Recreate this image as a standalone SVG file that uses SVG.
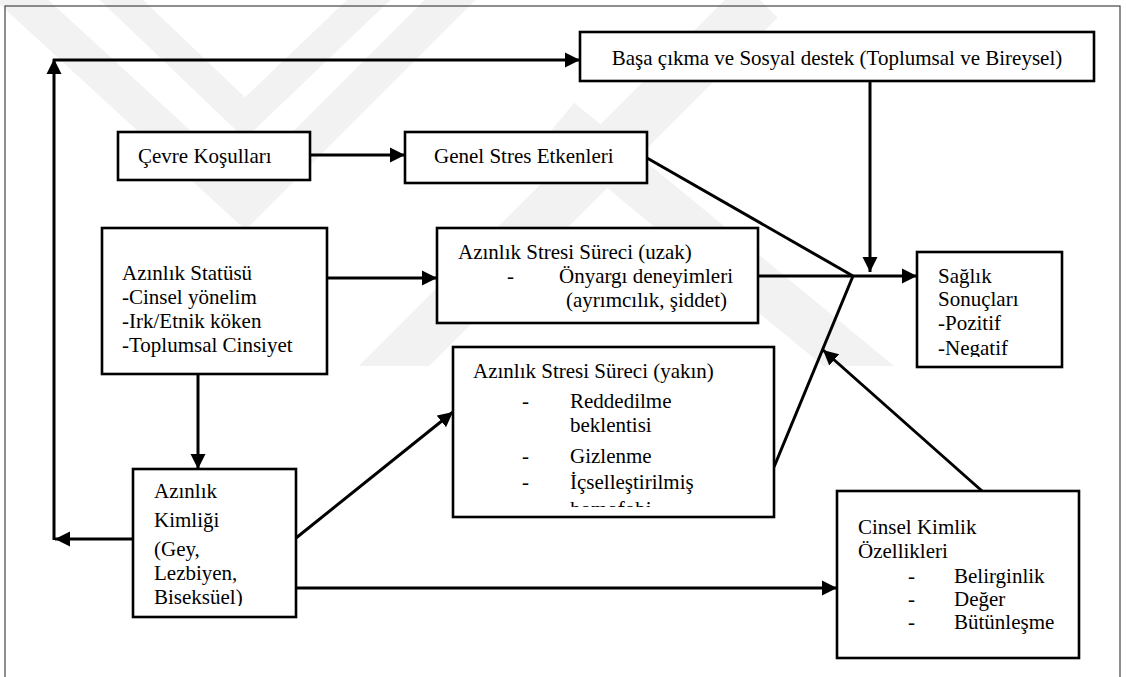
<svg xmlns="http://www.w3.org/2000/svg" width="1126" height="677" viewBox="0 0 1126 677">
<defs>
<style>
.box{fill:#fff;stroke:#000;stroke-width:2.6}
.t{font-size:21px;fill:#000}
.c{stroke:#000;stroke-width:3;fill:none}
.a{marker-end:url(#ah)}
.wm{fill:none;stroke:#f2f2f2;stroke-linejoin:miter}
</style>
<marker id="ah" markerUnits="userSpaceOnUse" markerWidth="16" markerHeight="16" refX="15" refY="7.5" orient="auto" viewBox="0 0 16 15">
<path d="M0,0 L15,7.5 L0,15 z" fill="#000"/>
</marker>
<clipPath id="clipS"><rect x="917" y="250" width="150" height="107"/></clipPath>
<clipPath id="clipY"><rect x="453" y="345" width="322" height="162"/></clipPath>
<clipPath id="clipK"><rect x="133" y="467" width="165" height="139"/></clipPath>
<clipPath id="clipW"><rect x="0" y="0" width="1126" height="366"/></clipPath>
</defs>
<rect width="1126" height="677" fill="#fff"/>
<g id="watermark" clip-path="url(#clipW)">
<polyline class="wm" stroke-width="36" points="0,-20 245,205 480,-30"/>
<polyline class="wm" stroke-width="30" points="90,-30 245,118 400,-30"/>
<line class="wm" stroke-width="50" x1="360" y1="400" x2="760" y2="0"/>
<line class="wm" stroke-width="45" x1="560" y1="120" x2="900" y2="400"/>
</g>
<rect id="frame" x="5" y="6" width="1115" height="700" fill="none" stroke="#444" stroke-width="1.2"/>
<g id="connectors">
<line class="c a" x1="133" y1="539" x2="55" y2="539"/>
<line class="c a" x1="54" y1="540" x2="54" y2="59"/>
<line class="c a" x1="53" y1="60" x2="580" y2="60"/>
<line class="c a" x1="870" y1="81" x2="870" y2="272"/>
<line class="c a" x1="310" y1="155" x2="405" y2="155"/>
<line class="c" x1="647" y1="158" x2="853" y2="276"/>
<line class="c a" x1="327" y1="278" x2="437" y2="278"/>
<line class="c a" x1="758" y1="276" x2="917" y2="276"/>
<line class="c" x1="774" y1="467" x2="853" y2="276"/>
<line class="c a" x1="982" y1="491" x2="823" y2="350"/>
<line class="c a" x1="198" y1="374" x2="198" y2="469"/>
<line class="c a" x1="296" y1="538" x2="453" y2="412"/>
<line class="c a" x1="296" y1="588" x2="837" y2="588"/>
</g>
<g font-family="Liberation Serif, Times New Roman, serif">
<g id="basa">
<rect class="box" x="580" y="32" width="514" height="49"/>
<text class="t" x="837" y="65" text-anchor="middle">Başa çıkma ve Sosyal destek (Toplumsal ve Bireysel)</text>
</g>
<g id="cevre">
<rect class="box" x="118" y="132" width="192" height="48"/>
<text class="t" x="138" y="163">Çevre Koşulları</text>
</g>
<g id="genel">
<rect class="box" x="405" y="132" width="242" height="51"/>
<text class="t" x="434" y="163">Genel Stres Etkenleri</text>
</g>
<g id="statusu">
<rect class="box" x="102" y="228" width="225" height="146"/>
<text class="t" x="122" y="280">Azınlık Statüsü</text>
<text class="t" x="122" y="304">-Cinsel yönelim</text>
<text class="t" x="122" y="328">-Irk/Etnik köken</text>
<text class="t" x="122" y="352">-Toplumsal Cinsiyet</text>
</g>
<g id="uzak">
<rect class="box" x="437" y="228" width="321" height="95"/>
<text class="t" x="458" y="259">Azınlık Stresi Süreci (uzak)</text>
<text class="t" x="507" y="283">-</text>
<text class="t" x="559" y="283">Önyargı deneyimleri</text>
<text class="t" x="566" y="307">(ayrımcılık, şiddet)</text>
</g>
<g id="yakin">
<rect class="box" x="453" y="347" width="321" height="170"/>
<g clip-path="url(#clipY)">
<text class="t" x="473" y="378">Azınlık Stresi Süreci (yakın)</text>
<text class="t" x="522" y="408">-</text>
<text class="t" x="570" y="408">Reddedilme</text>
<text class="t" x="570" y="432">beklentisi</text>
<text class="t" x="522" y="463">-</text>
<text class="t" x="570" y="463">Gizlenme</text>
<text class="t" x="522" y="489">-</text>
<text class="t" x="570" y="489">İçselleştirilmiş</text>
<text class="t" x="570" y="516">homofobi</text>
</g>
</g>
<g id="saglik">
<rect class="box" x="917" y="252" width="145" height="115"/>
<g clip-path="url(#clipS)">
<text class="t" x="938" y="283">Sağlık</text>
<text class="t" x="938" y="306">Sonuçları</text>
<text class="t" x="938" y="330">-Pozitif</text>
<text class="t" x="938" y="355">-Negatif</text>
</g>
</g>
<g id="kimlik">
<rect class="box" x="133" y="469" width="163" height="148"/>
<g clip-path="url(#clipK)">
<text class="t" x="154" y="498">Azınlık</text>
<text class="t" x="154" y="527">Kimliği</text>
<text class="t" x="154" y="556">(Gey,</text>
<text class="t" x="154" y="580">Lezbiyen,</text>
<text class="t" x="154" y="604">Biseksüel)</text>
</g>
</g>
<g id="cinsel">
<rect class="box" x="837" y="491" width="242" height="167"/>
<text class="t" x="858" y="534">Cinsel Kimlik</text>
<text class="t" x="858" y="558">Özellikleri</text>
<text class="t" x="908" y="583">-</text>
<text class="t" x="954" y="583">Belirginlik</text>
<text class="t" x="908" y="606">-</text>
<text class="t" x="954" y="606">Değer</text>
<text class="t" x="908" y="629">-</text>
<text class="t" x="954" y="629">Bütünleşme</text>
</g>
</g>
</svg>
